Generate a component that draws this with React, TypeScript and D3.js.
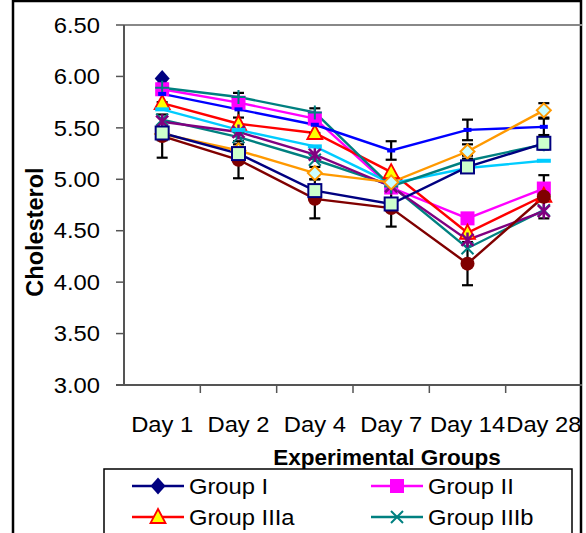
import React from "react";
import * as d3 from "d3";

const WIDTH = 586;
const HEIGHT = 533;
const PLOT = { left: 124, right: 582, top: 25, bottom: 385 };
const FONT = "'Liberation Sans', Arial, sans-serif";
const STRETCH = 1.08; // the original chart text is slightly wide

const days = ["Day 1", "Day 2", "Day 4", "Day 7", "Day 14", "Day 28"];
const yTicks = [3.0, 3.5, 4.0, 4.5, 5.0, 5.5, 6.0, 6.5];

const groupI = [5.98, null, null, null, null, null];
const groupII = [5.875, 5.745, 5.59, 4.92, 4.62, 4.91];
const groupIIIa = [5.74, 5.54, 5.45, 5.07, 4.48, 4.84];
const groupIIIb = [5.58, 5.41, 5.19, 4.94, 4.33, 4.7];
const groupIIIc = [5.56, 5.46, 5.24, 4.93, 4.41, 4.69];
const groupIVa = [5.68, 5.48, 5.32, 4.96, 5.11, 5.18];
const groupIVb = [5.89, 5.8, 5.65, 4.93, 5.18, 5.34];
const groupIVc = [5.83, 5.68, 5.53, 5.28, 5.48, 5.51];
const groupVa = [5.44, 5.28, 5.06, 4.97, 5.27, 5.67];
const groupVb = [5.42, 5.19, 4.81, 4.72, 4.18, 4.83];
const groupVc = [5.45, 5.25, 4.89, 4.76, 5.12, 5.35];

const errIVb = [0.04, 0.04, 0.04, 0.04, 0.05, 0.05];
const errIVc = [0.08, 0.08, 0.08, 0.09, 0.1, 0.08];
const errVa = [0.06, 0.06, 0.06, 0.06, 0.07, 0.07];
const errVb = [0.21, 0.18, 0.19, 0.18, 0.21, 0.21];

// only the first legend rows are visible in the original
const LEGEND_SHOWN = 4;

type Marker = "diamond" | "square" | "triangle" | "x" | "star" | "dash" | "plus" | "smalldash" | "odiamond" | "gsquare" | "circle";

type Series = {
  name: string;
  values: (number | null)[];
  err?: number[];
  color: string;
  marker: Marker;
};

const series: Series[] = [
  { name: "Group I", values: groupI, color: "#000080", marker: "diamond" },
  { name: "Group II", values: groupII, color: "#FF00FF", marker: "square" },
  { name: "Group IIIa", values: groupIIIa, color: "#FF0000", marker: "triangle" },
  { name: "Group IIIb", values: groupIIIb, color: "#008080", marker: "x" },
  { name: "Group IIIc", values: groupIIIc, color: "#800080", marker: "star" },
  { name: "Group IVa", values: groupIVa, color: "#00CCFF", marker: "dash" },
  { name: "Group IVb", values: groupIVb, err: errIVb, color: "#008080", marker: "plus" },
  { name: "Group IVc", values: groupIVc, err: errIVc, color: "#0000FF", marker: "smalldash" },
  { name: "Group Va", values: groupVa, err: errVa, color: "#FF9900", marker: "odiamond" },
  { name: "Group Vb", values: groupVb, err: errVb, color: "#800000", marker: "circle" },
  { name: "Group Vc", values: groupVc, color: "#000080", marker: "gsquare" },
];

const MarkerShape = ({ type, x, y, color }: { type: Marker; x: number; y: number; color: string }) => {
  const t = `translate(${x},${y})`;
  switch (type) {
    case "diamond":
      return <path transform={t} d="M0,-8.5L7.5,0L0,8.5L-7.5,0Z" fill={color} />;
    case "square":
      return <rect transform={t} x={-7} y={-7} width={14} height={14} fill={color} />;
    case "triangle":
      return <path transform={t} d="M0,-8L7.5,6L-7.5,6Z" fill="#FFFF00" stroke={color} strokeWidth={1.8} />;
    case "x":
      return <path transform={t} d="M-6,-6L6,6M-6,6L6,-6" stroke={color} strokeWidth={2} fill="none" />;
    case "star":
      return <path transform={t} d="M-6,-6L6,6M-6,6L6,-6M0,-7.5L0,7.5" stroke={color} strokeWidth={2.5} fill="none" />;
    case "dash":
      return <rect transform={t} x={-7} y={-2} width={14} height={4} fill={color} />;
    case "plus":
      return <path transform={t} d="M-7,0L7,0M0,-7L0,7" stroke={color} strokeWidth={2} fill="none" />;
    case "smalldash":
      return <rect transform={t} x={-4} y={-2} width={8} height={4} fill={color} />;
    case "odiamond":
      return <path transform={t} d="M0,-7L7,0L0,7L-7,0Z" fill="#CCFFFF" stroke={color} strokeWidth={2} />;
    case "gsquare":
      return <rect transform={t} x={-6.5} y={-6.5} width={13} height={13} fill="#CCFFCC" stroke={color} strokeWidth={2} />;
    case "circle":
      return <circle cx={x} cy={y} r={7} fill={color} />;
  }
};

const Label = ({ x, y, anchor, children, dy }: { x: number; y: number; anchor: string; children: React.ReactNode; dy?: string }) => (
  <text transform={`translate(${x},${y}) scale(${STRETCH},1)`} dy={dy} textAnchor={anchor} fontSize={22}>
    {children}
  </text>
);

export default function App() {
  const xScale = d3.scaleBand<string>().domain(days).range([PLOT.left, PLOT.right]).padding(0);
  const yScale = d3.scaleLinear().domain([3, 6.5]).range([PLOT.bottom, PLOT.top]);
  const cx = (d: string) => (xScale(d) ?? 0) + xScale.bandwidth() / 2;

  const lineGen = d3
    .line<number | null>()
    .defined((v) => v !== null)
    .x((_, i) => cx(days[i]))
    .y((v) => yScale(v as number));

  const legendRowH = 31;
  const legendTop = 469;

  return (
    <div style={{ position: "absolute", left: 0, top: 0 }}>
      <svg width={WIDTH} height={HEIGHT} style={{ display: "block", background: "#fff" }} fontFamily={FONT}>
        {/* chart border */}
        <rect x={13} y={1} width={568} height={700} fill="#fff" stroke="#000" strokeWidth={2.5} />

        {/* plot area */}
        <line x1={PLOT.left} x2={PLOT.right} y1={PLOT.top} y2={PLOT.top} stroke="#888" strokeWidth={2} />
        <line x1={PLOT.left} x2={PLOT.left} y1={PLOT.top} y2={PLOT.bottom} stroke="#555" strokeWidth={2} />
        <line x1={PLOT.left - 8} x2={PLOT.right} y1={PLOT.bottom} y2={PLOT.bottom} stroke="#555" strokeWidth={2} />

        {yTicks.map((v) => (
          <g key={v}>
            <line x1={PLOT.left - 8} x2={PLOT.left} y1={yScale(v)} y2={yScale(v)} stroke="#555" strokeWidth={1.5} />
            <Label x={100} y={yScale(v)} dy="0.35em" anchor="end">
              {v.toFixed(2)}
            </Label>
          </g>
        ))}

        {days.map((d, i) => (
          <g key={d}>
            {i > 0 && (
              <line x1={xScale(d)} x2={xScale(d)} y1={PLOT.bottom} y2={PLOT.bottom + 8} stroke="#555" strokeWidth={1.5} />
            )}
            <Label x={cx(d)} y={432} anchor="middle">
              {d}
            </Label>
          </g>
        ))}

        <text
          transform="translate(35,232) rotate(-90)"
          dy="0.35em"
          textAnchor="middle"
          fontSize={23.5}
          fontWeight="bold"
        >
          Cholesterol
        </text>
        <text x={387} y={465} textAnchor="middle" fontSize={22.5} fontWeight="bold">
          Experimental Groups
        </text>

        {/* lines */}
        {series.map((s) => (
          <path key={s.name} d={lineGen(s.values) ?? ""} fill="none" stroke={s.color} strokeWidth={2.4} />
        ))}

        {/* error bars */}
        {series.map((s) =>
          s.err
            ? s.values.map((v, i) => {
                if (v === null) return null;
                const x = cx(days[i]);
                const y1 = yScale(v + s.err![i]);
                const y2 = yScale(v - s.err![i]);
                return (
                  <g key={s.name + i} stroke="#000" strokeWidth={2.2}>
                    <line x1={x} x2={x} y1={y1} y2={y2} />
                    <line x1={x - 5.5} x2={x + 5.5} y1={y1} y2={y1} />
                    <line x1={x - 5.5} x2={x + 5.5} y1={y2} y2={y2} />
                  </g>
                );
              })
            : null
        )}

        {/* markers */}
        {series.map((s) =>
          s.values.map((v, i) =>
            v === null ? null : (
              <MarkerShape key={s.name + i} type={s.marker} x={cx(days[i])} y={yScale(v)} color={s.color} />
            )
          )
        )}

        {/* legend */}
        <rect x={104} y={legendTop} width={468} height={220} fill="#fff" stroke="#000" strokeWidth={1.5} />
        {series.slice(0, LEGEND_SHOWN).map((s, i) => {
          const col = i % 2;
          const row = Math.floor(i / 2);
          const lx = 132 + col * 239;
          const ly = 486 + row * legendRowH;
          return (
            <g key={s.name}>
              <line x1={lx} x2={lx + 52} y1={ly} y2={ly} stroke={s.color} strokeWidth={2.4} />
              <MarkerShape type={s.marker} x={lx + 26} y={ly} color={s.color} />
              <Label x={lx + 57} y={ly} dy="0.35em" anchor="start">
                {s.name}
              </Label>
            </g>
          );
        })}
      </svg>
    </div>
  );
}
